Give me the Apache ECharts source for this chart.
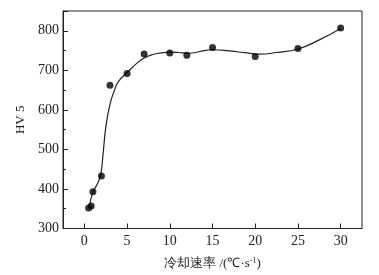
<!DOCTYPE html>
<html>
<head>
<meta charset="utf-8">
<script src="https://cdn.jsdelivr.net/npm/echarts@6/dist/echarts.min.js"></script>
<style>
html, body { margin: 0; padding: 0; background: #fff; }
#chart { width: 379px; height: 275px; }
</style>
</head>
<body>
<div id="chart"></div>
<script>
// measured points: cooling rate (°C/s) vs hardness HV5
var rates = [0.5, 0.8, 1, 2, 3, 5, 7, 10, 12, 15, 20, 25, 30];
var hardness = [352, 357, 393, 433, 662, 692, 741, 744, 738, 758, 735, 755, 807];

// fitted curve
var fitX = [0.55, 1, 1.5, 1.9, 2.2, 2.5, 3, 3.5, 4, 5, 6, 7, 8, 9, 10, 11, 12, 13, 14, 15, 17, 19, 20.5, 22.5, 25, 27.5, 30];
var fitY = [352, 392, 412, 435, 490, 555, 614, 648, 672, 694, 715, 731, 740, 744, 746, 745, 743, 745, 750, 752, 749, 744, 741, 745, 754, 777, 806];

var xTicks = [0, 5, 10, 15, 20, 25, 30];

var serif = '"Liberation Serif", "Times New Roman", serif';

var chart = echarts.init(document.getElementById('chart'));
var option = {
	animation: false,
	grid: {
		left: 63,
		top: 11,
		right: 17,
		bottom: 44,
		show: true,
		borderColor: '#222',
		borderWidth: 1
	},
	xAxis: {
		type: 'value',
		min: -2.5,
		max: 32.5,
		name: '冷却速率 /(℃·s{sup|-1})',
		nameLocation: 'middle',
		nameGap: 28,
		nameTextStyle: {
			fontFamily: serif,
			fontSize: 13,
			color: '#222',
			rich: {
				sup: { fontSize: 8, verticalAlign: 'top', padding: [0, 0, 6, 0], fontFamily: serif, color: '#222' }
			}
		},
		axisLine: { show: true, onZero: false, lineStyle: { color: '#222', width: 1 } },
		axisTick: { inside: true, length: 5, customValues: xTicks, lineStyle: { color: '#222' } },
		axisLabel: { customValues: xTicks, margin: 6, fontFamily: serif, fontSize: 14, color: '#222' },
		splitLine: { show: false }
	},
	yAxis: {
		type: 'value',
		min: 300,
		max: 850,
		interval: 100,
		name: 'HV 5',
		nameLocation: 'middle',
		nameGap: 36,
		nameTextStyle: { fontFamily: serif, fontSize: 13, color: '#222' },
		axisLine: { show: true, onZero: false, lineStyle: { color: '#222', width: 1 } },
		axisTick: { inside: true, length: 5, lineStyle: { color: '#222' } },
		minorTick: { show: true, splitNumber: 2, length: 3, lineStyle: { color: '#222' } },
		axisLabel: { showMaxLabel: false, margin: 4, fontFamily: serif, fontSize: 14, color: '#222' },
		splitLine: { show: false }
	},
	series: [{
		type: 'line',
		data: fitX.map(function (x, i) { return [x, fitY[i]]; }),
		smooth: 0.5,
		showSymbol: false,
		lineStyle: { color: '#222', width: 1.2 },
		z: 2
	}, {
		type: 'scatter',
		data: rates.map(function (x, i) { return [x, hardness[i]]; }),
		symbol: 'circle',
		symbolSize: 7,
		itemStyle: { color: '#000' },
		z: 3
	}]
};
chart.setOption(option);
</script>
</body>
</html>
